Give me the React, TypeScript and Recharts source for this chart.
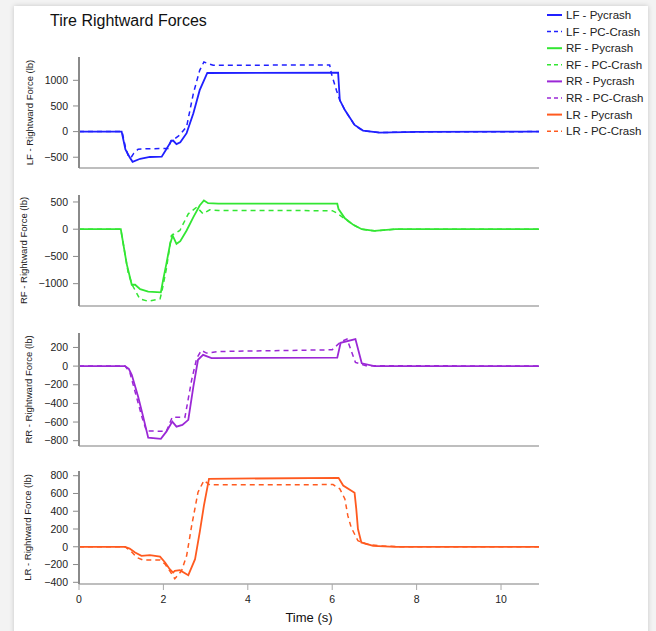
import React from 'react';
import { LineChart, Line, XAxis, YAxis } from 'recharts';

// Time samples (s) and rightward force (lb) for each tire, as [t, force] pairs.
const lfPycrash: [number, number][] = [
  [0, 0], [1.01, 0], [1.1, -350], [1.2, -500], [1.27, -590], [1.45, -530], [1.68, -495], [1.96, -490],
  [2.08, -330], [2.19, -180], [2.23, -175], [2.31, -245], [2.4, -210], [2.55, -30], [2.71, 357],
  [2.86, 808], [3.04, 1143], [6.14, 1150], [6.18, 614], [6.3, 420], [6.53, 130], [6.73, 20],
  [7.12, -19], [8.0, -5], [10.9, 0],
];
const lfPcCrash: [number, number][] = [
  [0, 0], [1.02, 0], [1.1, -300], [1.17, -480], [1.23, -510], [1.3, -420], [1.4, -345], [1.6, -335],
  [2.11, -330], [2.18, -174], [2.25, -150], [2.39, -64], [2.55, 97], [2.71, 744], [2.86, 1195],
  [2.96, 1357], [3.18, 1293], [5.94, 1300], [5.98, 1132], [6.1, 808], [6.18, 614], [6.3, 420],
  [6.53, 125], [6.73, 15], [7.12, -19], [8.0, -5], [10.9, 0],
];
const rfPycrash: [number, number][] = [
  [0, 0], [0.99, 0], [1.13, -636], [1.25, -1020], [1.33, -1020], [1.45, -1100], [1.64, -1145],
  [1.94, -1158], [1.99, -943], [2.07, -636], [2.16, -268], [2.22, -120], [2.31, -268], [2.4, -220],
  [2.55, -24], [2.71, 221], [2.86, 436], [2.96, 527], [3.06, 478], [3.3, 468], [6.12, 468],
  [6.15, 370], [6.3, 200], [6.5, 80], [6.7, 0], [7.0, -30], [7.5, 0], [10.9, 0],
];
const rfPcCrash: [number, number][] = [
  [0, 0], [0.99, 0], [1.1, -500], [1.17, -820], [1.27, -1035], [1.44, -1280], [1.64, -1323],
  [1.92, -1280], [1.96, -1158], [2.07, -728], [2.19, -116], [2.39, -24], [2.59, 283], [2.79, 405],
  [2.94, 283], [3.1, 356], [3.3, 345], [6.0, 340], [6.1, 300], [6.3, 190], [6.5, 80], [6.7, 0],
  [7.0, -30], [7.5, 0], [10.9, 0],
];
const rrPycrash: [number, number][] = [
  [0, 0], [1.09, 0], [1.18, -30], [1.25, -94], [1.4, -327], [1.52, -542], [1.64, -767], [1.94, -781],
  [2.07, -703], [2.21, -595], [2.31, -649], [2.45, -630], [2.59, -577], [2.71, -219], [2.82, 68],
  [2.94, 121], [3.14, 86], [6.12, 90], [6.2, 250], [6.55, 290], [6.7, 30], [7.0, 0], [10.9, 0],
];
const rrPcCrash: [number, number][] = [
  [0, 0], [1.09, 0], [1.2, -60], [1.36, -327], [1.5, -560], [1.6, -695], [2.07, -700], [2.21, -548],
  [2.51, -550], [2.67, -147], [2.79, 86], [2.9, 168], [3.02, 140], [3.34, 157], [6.0, 175],
  [6.2, 260], [6.35, 290], [6.55, 40], [6.8, 5], [10.9, 0],
];
const lrPycrash: [number, number][] = [
  [0, 0], [1.09, 0], [1.2, -20], [1.33, -64], [1.48, -102], [1.68, -94], [1.92, -110], [2.04, -177],
  [2.15, -252], [2.23, -290], [2.27, -271], [2.39, -263], [2.59, -320], [2.75, -139], [2.86, 162],
  [2.96, 463], [3.08, 765], [6.15, 776], [6.26, 689], [6.53, 607], [6.57, 426], [6.61, 200],
  [6.69, 49], [6.97, 11], [7.5, 0], [10.9, 0],
];
const lrPcCrash: [number, number][] = [
  [0, 0], [1.09, 0], [1.25, -60], [1.37, -121], [1.52, -150], [1.92, -150], [2.04, -196],
  [2.15, -271], [2.27, -360], [2.43, -271], [2.55, -102], [2.67, 237], [2.82, 614], [2.96, 746],
  [3.1, 697], [6.02, 700], [6.18, 652], [6.3, 539], [6.37, 350], [6.45, 218], [6.61, 68],
  [6.81, 30], [7.12, 11], [7.6, 0], [10.9, 0],
];

const timeDomain: [number, number] = [0, 10.9];
const timeTicks = [0, 2, 4, 6, 8, 10];
const lfTicks = [-500, 0, 500, 1000];
const rfTicks = [-1000, -500, 0, 500];
const rrTicks = [-800, -600, -400, -200, 0, 200];
const lrTicks = [-400, -200, 0, 200, 400, 600, 800];

const tireNames = ['LF', 'RF', 'RR', 'LR'];
const tireColors = ['#2020ff', '#33e633', '#9b28d6', '#ff5a1f'];

const FONT = '"Liberation Sans", Arial, Helvetica, sans-serif';
const WIDTH = 656;
const HEIGHT = 631;
const PLOT_LEFT = 79;
const PLOT_RIGHT = 539;
const Y_AXIS_W = 60;

const toRows = (pts: [number, number][]) => pts.map(([t, v]) => ({ t, v }));
const fmt = (v: number) => String(v).replace('-', '\u2212');

type Panel = {
  tire: number;
  solid: [number, number][];
  dashed: [number, number][];
  domain: [number, number];
  ticks: number[];
  top: number;
  bottom: number;
  labelX: number;
};

const panels: Panel[] = [
  { tire: 0, solid: lfPycrash, dashed: lfPcCrash, domain: [-710, 1455], ticks: lfTicks, top: 57, bottom: 168, labelX: 29 },
  { tire: 1, solid: rfPycrash, dashed: rfPcCrash, domain: [-1410, 628], ticks: rfTicks, top: 195, bottom: 306, labelX: 23 },
  { tire: 2, solid: rrPycrash, dashed: rrPcCrash, domain: [-857, 355], ticks: rrTicks, top: 333, bottom: 446, labelX: 28 },
  { tire: 3, solid: lrPycrash, dashed: lrPcCrash, domain: [-419, 853], ticks: lrTicks, top: 471, bottom: 584, labelX: 27 },
];

const MARGIN_TOP = 8;

function PanelChart({ p, last }: { p: Panel; last: boolean }) {
  const xAxisH = last ? 26 : 10;
  const h = p.bottom - p.top + MARGIN_TOP + xAxisH;
  const color = tireColors[p.tire];
  return (
    <div style={{ position: 'absolute', left: 0, top: p.top - MARGIN_TOP }}>
      <LineChart
        width={WIDTH}
        height={h}
        margin={{ top: MARGIN_TOP, right: WIDTH - PLOT_RIGHT, bottom: 0, left: PLOT_LEFT - Y_AXIS_W }}
      >
        <XAxis
          dataKey="t"
          type="number"
          domain={timeDomain}
          ticks={timeTicks}
          allowDataOverflow
          height={xAxisH}
          axisLine={{ stroke: '#a8a8a8', strokeWidth: 1.5 }}
          tickLine={{ stroke: '#a8a8a8', strokeWidth: 1 }}
          tickSize={6}
          tickMargin={6}
          tick={last ? { fontSize: 10.5, fill: '#222', fontFamily: FONT } : false}
        />
        <YAxis
          dataKey="v"
          type="number"
          domain={p.domain}
          ticks={p.ticks}
          interval={0}
          allowDataOverflow
          width={Y_AXIS_W}
          axisLine={{ stroke: '#8a8a8a', strokeWidth: 2 }}
          tickLine={{ stroke: '#8a8a8a', strokeWidth: 1 }}
          tickSize={6}
          tickMargin={5}
          tickFormatter={fmt}
          tick={{ fontSize: 10.5, fill: '#222', fontFamily: FONT }}
        />
        <Line
          data={toRows(p.solid)}
          dataKey="v"
          type="linear"
          stroke={color}
          strokeWidth={1.8}
          dot={false}
          activeDot={false}
          isAnimationActive={false}
        />
        <Line
          data={toRows(p.dashed)}
          dataKey="v"
          type="linear"
          stroke={color}
          strokeWidth={1.5}
          strokeDasharray="5 4"
          dot={false}
          activeDot={false}
          isAnimationActive={false}
        />
      </LineChart>
    </div>
  );
}

const legendItems = tireNames.flatMap((name, i) => [
  { label: `${name} - Pycrash`, color: tireColors[i], dashed: false },
  { label: `${name} - PC-Crash`, color: tireColors[i], dashed: true },
]);

export default function App() {
  return (
    <div style={{ position: 'absolute', left: 0, top: 0, width: WIDTH, height: HEIGHT, background: '#f3f3f3', overflow: 'hidden' }}>
      <div
        style={{
          position: 'absolute', left: 14, top: 6, width: 634, height: 640,
          background: '#fff', boxShadow: '0 0 5px rgba(0,0,0,0.18)',
        }}
      />
      {panels.map((p, i) => (
        <PanelChart key={i} p={p} last={i === panels.length - 1} />
      ))}
      <svg
        width={WIDTH}
        height={HEIGHT}
        style={{ position: 'absolute', left: 0, top: 0, pointerEvents: 'none', fontFamily: FONT }}
      >
        <text x={50} y={26} fontSize={16} fill="#111">Tire Rightward Forces</text>
        {panels.map((p, i) => {
          const cy = (p.top + p.bottom) / 2;
          return (
            <text
              key={i}
              x={p.labelX}
              y={cy}
              fontSize={9.5}
              fill="#222"
              textAnchor="middle"
              dominantBaseline="central"
              transform={`rotate(-90 ${p.labelX} ${cy})`}
            >
              {`${tireNames[p.tire]} - Rightward Force (lb)`}
            </text>
          );
        })}
        <text x={309} y={622} fontSize={13} fill="#111" textAnchor="middle">Time (s)</text>
        {legendItems.map((it, i) => {
          const y = 15 + i * 16.6;
          return (
            <g key={i}>
              <line
                x1={547}
                x2={562}
                y1={y}
                y2={y}
                stroke={it.color}
                strokeWidth={it.dashed ? 1.5 : 2}
                strokeDasharray={it.dashed ? '4 3' : undefined}
              />
              <text x={566} y={y + 4} fontSize={11.5} fill="#222">{it.label}</text>
            </g>
          );
        })}
      </svg>
    </div>
  );
}
